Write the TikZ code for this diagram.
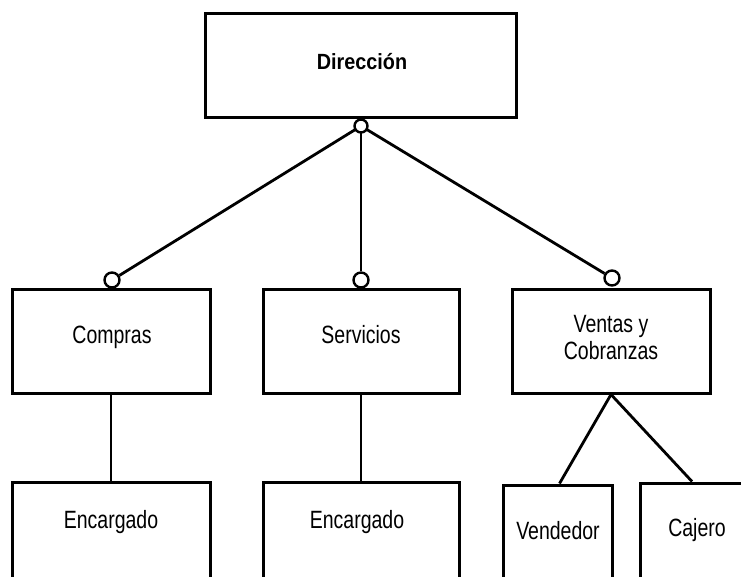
\documentclass[tikz,border=0pt]{standalone}
\usepackage{fontspec}
\setmainfont{Liberation Sans}[FakeStretch=0.78]
\newfontfamily\dirfont{Liberation Sans}[FakeStretch=0.9]
\usepackage{tikz}
\usetikzlibrary{calc}

\tikzset{
  unitbox/.style={draw, line width=3pt, rectangle, inner sep=0pt},
  joint/.style={draw, fill=white, circle, line width=2.4pt, inner sep=0pt, minimum size=15pt},
  link/.style={line width=2.8pt},
  lbl/.style={inner sep=0pt, anchor=base, font=\fontsize{25}{27}\selectfont}
}

\begin{document}
\begin{tikzpicture}[x=1pt,y=-1pt]
  \clip (0,0) rectangle (741,576);

  % cajas
  \node[unitbox, minimum width=311pt, minimum height=104pt] (dir) at (360.5,65) {};
  \node[unitbox, minimum width=198pt, minimum height=104pt] (comp) at (111,341) {};
  \node[unitbox, minimum width=196pt, minimum height=104pt] (serv) at (361,341) {};
  \node[unitbox, minimum width=198pt, minimum height=104pt] (vent) at (611,341) {};
  \node[unitbox, minimum width=198pt, minimum height=140pt] (enc1) at (111,552) {};
  \node[unitbox, minimum width=196pt, minimum height=140pt] (enc2) at (361,552) {};
  \node[unitbox, minimum width=109pt, minimum height=140pt] (vend) at (557.5,555) {};
  \node[unitbox, minimum width=112pt, minimum height=140pt] (caj) at (696,553) {};

  % uniones
  \coordinate (jdir) at (361,126);
  \node[joint] (jcomp) at (112,280) {};
  \node[joint] (jserv) at (361,280) {};
  \node[joint] (jvent) at (612,278) {};

  \draw[link] (jdir) -- (jcomp);
  \draw[link] (jdir) -- (jserv);
  \draw[link] (jdir) -- (jvent);
  \node[joint, minimum size=13pt] (jtop) at (jdir) {};

  \draw[link] (comp.south) -- (enc1.north);
  \draw[link] (serv.south) -- (enc2.north);
  \draw[link] (vent.south) -- ([xshift=2pt]vend.north);
  \draw[link] (vent.south) -- ([xshift=-4pt]caj.north);

  % textos
  \node[lbl, font=\dirfont\bfseries\fontsize{22}{24}\selectfont] (tdir) at (362,69) {Dirección};
  \node[lbl] (tcomp) at (112,343) {Compras};
  \node[lbl] (tserv) at (361,343) {Servicios};
  \node[lbl] (tvent1) at (611,332) {Ventas y};
  \node[lbl] (tvent2) at (611,359) {Cobranzas};
  \node[lbl] (tenc1) at (111,528) {Encargado};
  \node[lbl] (tenc2) at (357,528) {Encargado};
  \node[lbl] (tvend) at (558,539) {Vendedor};
  \node[lbl] (tcaj) at (697,536) {Cajero};
\end{tikzpicture}
\end{document}
